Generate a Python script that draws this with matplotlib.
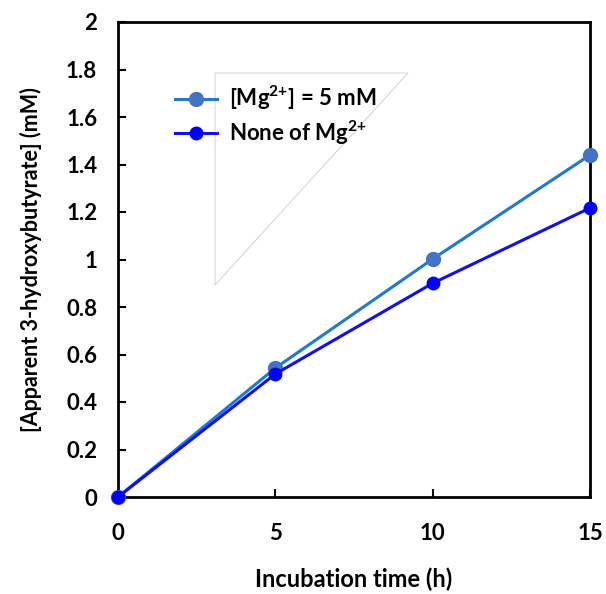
import matplotlib.pyplot as plt
from matplotlib.patches import Polygon
from matplotlib.lines import Line2D

plt.rcParams['font.family'] = ['Lato', 'DejaVu Sans']
plt.rcParams['font.weight'] = 'bold'
plt.rcParams['mathtext.fontset'] = 'custom'
plt.rcParams['mathtext.bf'] = 'Lato:bold'
plt.rcParams['mathtext.rm'] = 'Lato:bold'

time_h = [0, 5, 10, 15]
mg_5mm = [0, 0.543, 1.002, 1.44]
no_mg = [0, 0.518, 0.90, 1.217]
labels = ['[Mg$^{\\mathbf{2{+}}}$] = 5 mM', 'None of Mg$^{\\mathbf{2{+}}}$']

fig = plt.figure(figsize=(6.06, 5.94), dpi=100)
ax = fig.add_axes([118 / 606, 1 - 497 / 594, (590 - 118) / 606, (497 - 22) / 594])

ax.plot(time_h, mg_5mm, color='#1f7ad0', lw=2.2, marker='o', ms=10,
        mfc='#4472c4', mec='#4472c4', zorder=3, clip_on=False)
ax.plot(time_h, no_mg, color='#1010f0', lw=2.2, marker='o', ms=9,
        mfc='#0000ff', mec='#0000ff', zorder=3, clip_on=False)

ax.set_xlim(0, 15)
ax.set_ylim(0, 2)
ax.set_xticks([0, 5, 10, 15])
ax.set_yticks([0, 0.2, 0.4, 0.6, 0.8, 1, 1.2, 1.4, 1.6, 1.8, 2])
ax.set_yticklabels(['0', '0.2', '0.4', '0.6', '0.8', '1', '1.2', '1.4', '1.6', '1.8', '2'])
ax.tick_params(direction='in', length=6, width=1.5, labelsize=16)
ax.tick_params(axis='y', pad=15)
ax.tick_params(axis='x', pad=19)
for s in ax.spines.values():
    s.set_linewidth(2)

ax.set_xlabel('Incubation time (h)', fontsize=17, fontweight='bold', labelpad=17)
ax.set_ylabel('[Apparent 3-hydroxybutyrate] (mM)', fontsize=15.5, fontweight='bold', labelpad=17)

# odd triangular legend background
tri = Polygon([(215 / 606, 1 - 73 / 594), (408 / 606, 1 - 73 / 594), (215 / 606, 1 - 285 / 594)],
              closed=True, transform=fig.transFigure, facecolor='white', edgecolor='#d8d8d8', lw=0.8,
              zorder=5)
fig.patches.append(tri)

handles = [
    Line2D([], [], color='#1f7ad0', lw=2.2, marker='o', ms=10, mfc='#4472c4', mec='#4472c4'),
    Line2D([], [], color='#1010f0', lw=2.2, marker='o', ms=9, mfc='#0000ff', mec='#0000ff'),
]
leg = fig.legend(handles, labels, loc='upper left', bbox_to_anchor=(155 / 606, 1 - 64 / 594),
                 frameon=False, handlelength=1.9, handletextpad=0.55, labelspacing=0.3,
                 prop={'weight': 'bold', 'size': 16})
leg.set_zorder(6)

fig.savefig('out.png', dpi=100)
